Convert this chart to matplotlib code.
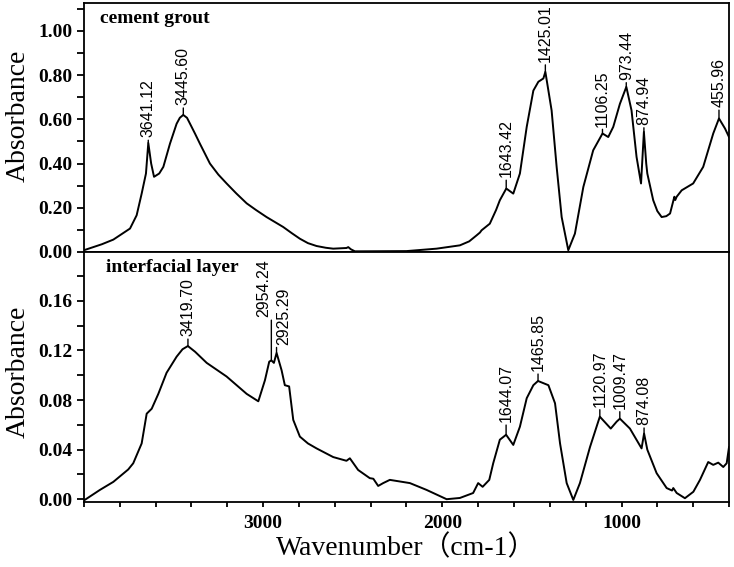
import numpy as np
import matplotlib
matplotlib.use("Agg")
import matplotlib.pyplot as plt
from matplotlib.ticker import MultipleLocator, FixedLocator, FormatStrFormatter

plt.rcParams['font.family'] = ['Liberation Serif', 'Noto Sans CJK SC']

# cement grout spectrum (wavenumber, absorbance)
grout_wn = [4000, 3900, 3836, 3743, 3706, 3678, 3654, 3641, 3625, 3609, 3580,
            3557, 3520, 3483, 3465, 3446, 3425, 3408, 3380, 3353, 3297, 3250,
            3204, 3150, 3092, 3040, 2981, 2888, 2840, 2795, 2750, 2702, 2650,
            2609, 2535, 2525, 2510, 2488, 2460, 2200, 2032, 1902, 1850, 1809,
            1790, 1781, 1735, 1700, 1679, 1643, 1604, 1567, 1529, 1492, 1464,
            1436, 1425, 1390, 1362, 1334, 1297, 1260, 1213, 1158, 1106, 1074,
            1046, 1009, 973, 944, 916, 891, 875, 862, 856, 823, 800, 776, 750,
            729, 705, 700, 692, 664, 600, 544, 488, 456, 422, 400]
grout_abs = [0.008, 0.035, 0.056, 0.106, 0.166, 0.264, 0.355, 0.493, 0.40, 0.34,
             0.355, 0.385, 0.49, 0.58, 0.607, 0.62, 0.607, 0.58, 0.535, 0.49,
             0.40, 0.35, 0.31, 0.265, 0.22, 0.19, 0.158, 0.113, 0.085, 0.06,
             0.04, 0.027, 0.019, 0.015, 0.018, 0.022, 0.012, 0.003, 0.003, 0.004,
             0.015, 0.03, 0.048, 0.075, 0.088, 0.098, 0.128, 0.19, 0.234, 0.287,
             0.264, 0.355, 0.566, 0.73, 0.77, 0.785, 0.815, 0.64, 0.385, 0.158,
             0.008, 0.083, 0.294, 0.46, 0.536, 0.52, 0.566, 0.67, 0.747, 0.64,
             0.43, 0.31, 0.543, 0.40, 0.355, 0.234, 0.185, 0.158, 0.162, 0.174,
             0.25, 0.235, 0.25, 0.279, 0.31, 0.385, 0.536, 0.604, 0.558, 0.52]

# interfacial layer spectrum
layer_wn = [4000, 3911, 3836, 3753, 3725, 3678, 3650, 3622, 3585, 3539, 3483,
            3450, 3420, 3380, 3315, 3204, 3092, 3027, 2990, 2966, 2954, 2940,
            2925, 2897, 2879, 2855, 2832, 2795, 2750, 2702, 2609, 2535, 2516,
            2470, 2405, 2385, 2358, 2330, 2293, 2181, 2088, 1976, 1902, 1828,
            1800, 1775, 1738, 1716, 1679, 1644, 1604, 1567, 1529, 1492, 1466,
            1408, 1371, 1343, 1306, 1269, 1232, 1176, 1121, 1060, 1027, 1009,
            953, 888, 874, 856, 804, 748, 718, 711, 692, 646, 599, 562, 516, 488,
            460, 432, 413, 400]
layer_abs = [-0.001, 0.0075, 0.014, 0.024, 0.029, 0.045, 0.069, 0.073, 0.085,
             0.102, 0.115, 0.121, 0.1236, 0.119, 0.11, 0.099, 0.085, 0.079,
             0.096, 0.111, 0.112, 0.110, 0.118, 0.104, 0.092, 0.091, 0.064,
             0.0505, 0.045, 0.041, 0.034, 0.031, 0.033, 0.0236, 0.017, 0.0165,
             0.0107, 0.013, 0.0156, 0.013, 0.0075, 0.0, 0.001, 0.005, 0.013,
             0.010, 0.0156, 0.029, 0.048, 0.052, 0.0438, 0.0585, 0.0815, 0.092,
             0.0954, 0.092, 0.0774, 0.045, 0.013, -0.0006, 0.013, 0.042, 0.0666,
             0.057, 0.0626, 0.065, 0.057, 0.041, 0.053, 0.040, 0.021, 0.009,
             0.007, 0.009, 0.005, 0.0008, 0.006, 0.0156, 0.030, 0.0277, 0.0295,
             0.026, 0.029, 0.042]

# peak labels
grout_peaks = ["3641.12", "3445.60", "1643.42", "1425.01", "1106.25", "973.44",
               "874.94", "455.96"]
grout_peak_abs = [0.493, 0.62, 0.287, 0.815, 0.536, 0.747, 0.543, 0.604]
grout_gap = [4, 7, 8, 7, 5, 5, 5, 8]
grout_side = ['center'] * 8

layer_peaks = ["3419.70", "2954.24", "2925.29", "1644.07", "1465.85", "1120.97",
               "1009.47", "874.08"]
layer_peak_abs = [0.1236, 0.112, 0.118, 0.052, 0.0954, 0.0666, 0.065, 0.053]
layer_gap = [7, 31, 6, 9, 7, 7, 7, 6]
layer_side = ['center', 'right', 'left', 'center', 'center', 'center', 'center',
              'center']

fig = plt.figure(figsize=(7.34, 5.67), dpi=100)
ax1 = fig.add_axes([0.1144, 0.5556, 0.8788, 0.4386])
ax2 = fig.add_axes([0.1144, 0.1152, 0.8788, 0.4404], sharex=ax1)

ax1.plot(grout_wn, grout_abs, color='black', lw=1.4)
ax2.plot(layer_wn, layer_abs, color='black', lw=1.4)

relx = {'center': 0.5, 'right': 1.0, 'left': 0.0}


def label_peaks(ax, names, heights, gaps, sides):
    for name, h, g, side in zip(names, heights, gaps, sides):
        ax.annotate(name, xy=(float(name), h), xytext=(0, g),
                    textcoords='offset points', rotation=90,
                    ha=side, va='bottom', fontsize=11.5,
                    family='Liberation Sans',
                    arrowprops=dict(arrowstyle='-', lw=1.0, color='black',
                                    shrinkA=0, shrinkB=0,
                                    relpos=(relx[side], 0.0)),
                    annotation_clip=False)


label_peaks(ax1, grout_peaks, grout_peak_abs, grout_gap, grout_side)
label_peaks(ax2, layer_peaks, layer_peak_abs, layer_gap, layer_side)

ax1.set_xlim(4000, 400)
ax1.set_ylim(0, 1.125)
ax2.set_ylim(-0.002, 0.1995)

ax1.yaxis.set_major_locator(FixedLocator([0, 0.2, 0.4, 0.6, 0.8, 1.0]))
ax1.yaxis.set_minor_locator(MultipleLocator(0.1))
ax1.yaxis.set_major_formatter(FormatStrFormatter('%.2f'))
ax2.yaxis.set_major_locator(FixedLocator([0, 0.04, 0.08, 0.12, 0.16]))
ax2.yaxis.set_minor_locator(MultipleLocator(0.02))
ax2.yaxis.set_major_formatter(FormatStrFormatter('%.2f'))
ax2.xaxis.set_major_locator(FixedLocator([3000, 2000, 1000]))
ax2.xaxis.set_minor_locator(MultipleLocator(200))

for ax in (ax1, ax2):
    for s in ax.spines.values():
        s.set_linewidth(1.3)
    ax.tick_params(axis='y', which='both', direction='out', length=5, width=1.3,
                   labelsize=14, pad=3)
    ax.tick_params(axis='x', which='both', direction='out', length=3.5, width=1.3,
                   labelsize=14, pad=6)
    for t in ax.get_yticklabels() + ax.get_xticklabels():
        t.set_fontweight('bold')
    ax.set_ylabel("Absorbance", fontsize=20)

ax1.yaxis.set_label_coords(-0.083, 0.546)
ax2.yaxis.set_label_coords(-0.083, 0.52)
ax1.tick_params(axis='x', which='both', bottom=False, labelbottom=False)

ax1.text(0.025, 0.975, "cement grout", transform=ax1.transAxes, fontsize=14,
         fontweight='bold', ha='left', va='top')
ax2.text(0.034, 0.97, "interfacial layer", transform=ax2.transAxes, fontsize=14,
         fontweight='bold', ha='left', va='top')

ax2.set_xlabel("Wavenumber（cm-1）", fontsize=20, labelpad=2)

fig.savefig("out.png", dpi=100)
